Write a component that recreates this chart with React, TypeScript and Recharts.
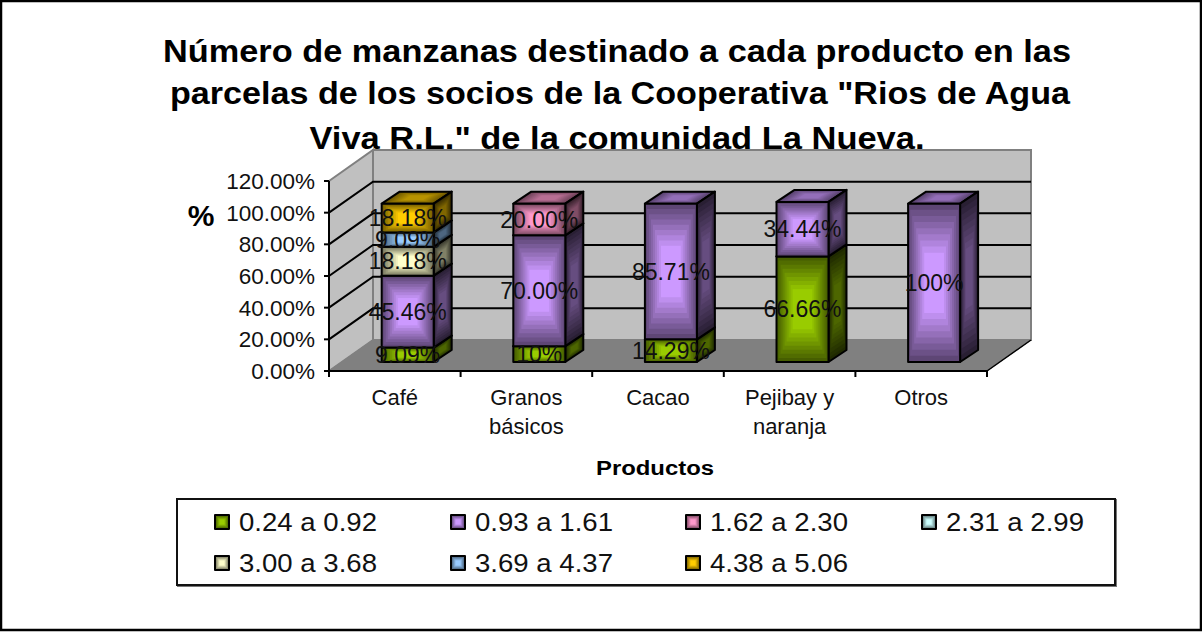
import React from "react";
import { BarChart, Bar, XAxis, YAxis, CartesianGrid, Legend, LabelList } from "recharts";

const categories = ["Café", "Granos básicos", "Cacao", "Pejibay y naranja", "Otros"];
const tickValues = [0, 20, 40, 60, 80, 100, 120];
const titleLines = [
  "Número de manzanas destinado a cada producto en las",
  "parcelas de los socios de la Cooperativa \"Rios de Agua",
  "Viva R.L.\" de la comunidad La Nueva.",
];
const titleWidths = [908, 900, 615];
const titleCenters = [617, 620, 617];
const titleBaselines = [62, 104, 149];

const s1Values = [9.09, 10, 14.29, 66.66, null];
const s1Labels = ["9.09%", "10%", "14.29%", "66.66%", null];
const s2Values = [45.46, 70, 85.71, 34.44, 100];
const s2Labels = ["45.46%", "70.00%", "85.71%", "34.44%", "100%"];
const s3Values = [null, 20, null, null, null];
const s3Labels = [null, "20.00%", null, null, null];
const s4Values = [null, null, null, null, null];
const s4Labels = [null, null, null, null, null];
const s5Values = [18.18, null, null, null, null];
const s5Labels = ["18.18%", null, null, null, null];
const s6Values = [9.09, null, null, null, null];
const s6Labels = ["9.09%", null, null, null, null];
const s7Values = [18.18, null, null, null, null];
const s7Labels = ["18.18%", null, null, null, null];

const seriesList = [
  { key: "s1", name: "0.24 a 0.92", color: "#99CC00", values: s1Values, labels: s1Labels },
  { key: "s2", name: "0.93 a 1.61", color: "#CC99FF", values: s2Values, labels: s2Labels },
  { key: "s3", name: "1.62 a 2.30", color: "#FF99CC", values: s3Values, labels: s3Labels },
  { key: "s4", name: "2.31 a 2.99", color: "#CCFFFF", values: s4Values, labels: s4Labels },
  { key: "s5", name: "3.00 a 3.68", color: "#FFFFCC", values: s5Values, labels: s5Labels },
  { key: "s6", name: "3.69 a 4.37", color: "#99CCFF", values: s6Values, labels: s6Labels },
  { key: "s7", name: "4.38 a 5.06", color: "#FFCC00", values: s7Values, labels: s7Labels },
];

const rows = categories.map((category, i) => {
  const row: Record<string, any> = { category };
  seriesList.forEach((s) => {
    row[s.key] = s.values[i];
    row[s.key + "_label"] = s.labels[i];
  });
  return row;
});

const FONT = "'Liberation Sans', Arial, sans-serif";
const W = 1202;
const H = 633;
const PLOT = { left: 329, right: 987, top: 181, bottom: 371 };
const WALL = { dx: 44, dy: -31 };
const BAR_SHIFT = { dx: 12.7, dy: -9 };
const BAR_DEPTH = { dx: 18, dy: -12 };

function shade(hex: string, f: number) {
  const n = parseInt(hex.slice(1), 16);
  const c = [(n >> 16) & 255, (n >> 8) & 255, n & 255].map((v) => Math.round(v * f));
  return `rgb(${c[0]},${c[1]},${c[2]})`;
}

type Pt = [number, number];
function Bands({ pts, color, inner, outer, steps = 9 }: { pts: Pt[]; color: string; inner: number; outer: number; steps?: number }) {
  const cx = pts.reduce((a, p) => a + p[0], 0) / pts.length;
  const cy = pts.reduce((a, p) => a + p[1], 0) / pts.length;
  const out = [];
  for (let i = 0; i < steps; i++) {
    const t = i / (steps - 1);
    const k = 1 - t * 0.62;
    const f = outer + (inner - outer) * t;
    const p = pts.map(([x, y]) => `${cx + (x - cx) * k},${cy + (y - cy) * k}`).join(" ");
    out.push(<polygon key={i} points={p} fill={shade(color, f)} stroke="none" />);
  }
  return (
    <g>
      {out}
      <polygon points={pts.map((p) => p.join(",")).join(" ")} fill="none" stroke="#000" strokeWidth={2} strokeLinejoin="round" />
    </g>
  );
}

function Bar3D(props: any) {
  const { x, y, width, height, fill } = props;
  if (!height || height <= 0 || x == null) return null;
  const x0 = x + BAR_SHIFT.dx;
  const y0 = y + BAR_SHIFT.dy;
  const x1 = x0 + width;
  const y1 = y0 + height;
  const d = BAR_DEPTH;
  return (
    <g>
      <Bands color={fill} inner={0.72} outer={0.42}
        pts={[[x0, y0], [x1, y0], [x1 + d.dx, y0 + d.dy], [x0 + d.dx, y0 + d.dy]]} />
      <Bands color={fill} inner={0.5} outer={0.2}
        pts={[[x1, y0], [x1 + d.dx, y0 + d.dy], [x1 + d.dx, y1 + d.dy], [x1, y1]]} />
      <Bands color={fill} inner={1} outer={0.46}
        pts={[[x0, y0], [x1, y0], [x1, y1], [x0, y1]]} />
    </g>
  );
}

function SegmentLabel(props: any) {
  const { x, y, width, height, value } = props;
  if (value == null || !height) return null;
  return (
    <text x={x + width / 2 + BAR_SHIFT.dx} y={y + height / 2 + BAR_SHIFT.dy} textAnchor="middle" dominantBaseline="central"
      fontFamily={FONT} fontSize={23} fill="#111">
      {value}
    </text>
  );
}

function GridLine(props: any) {
  const { x1, x2, y1 } = props;
  if (Math.abs(y1 - PLOT.top) < 1 || Math.abs(y1 - PLOT.bottom) < 1) return <g />;
  return (
    <polyline points={`${x1},${y1} ${x1 + WALL.dx},${y1 + WALL.dy} ${x2 + WALL.dx},${y1 + WALL.dy}`}
      fill="none" stroke="#000" strokeWidth={2} />
  );
}

function wrapLabel(label: string) {
  const lines: string[] = [];
  let cur = "";
  label.split(" ").forEach((w) => {
    const next = cur ? cur + " " + w : w;
    if (next.length > 10 && cur) {
      lines.push(cur);
      cur = w;
    } else cur = next;
  });
  if (cur) lines.push(cur);
  return lines;
}

function CategoryTick(props: any) {
  const { x, payload, index } = props;
  const band = (PLOT.right - PLOT.left) / categories.length;
  return (
    <g>
      <line x1={x - band / 2} x2={x - band / 2} y1={PLOT.bottom} y2={PLOT.bottom + 6} stroke="#000" strokeWidth={2} />
      {index === categories.length - 1 && (
        <line x1={x + band / 2} x2={x + band / 2} y1={PLOT.bottom} y2={PLOT.bottom + 6} stroke="#000" strokeWidth={2} />
      )}
      <text textAnchor="middle" fontFamily={FONT} fontSize={22} fill="#111">
        {wrapLabel(payload.value).map((ln, i) => (
          <tspan key={ln} x={x} y={PLOT.bottom + 34 + i * 29}>{ln}</tspan>
        ))}
      </text>
    </g>
  );
}

function LegendBox(props: any) {
  const items = props.payload || [];
  return (
    <div style={{ boxSizing: "border-box", width: 940, height: 88, border: "2px solid #111", background: "#fff", position: "relative", boxShadow: "1px 1px 0 #777" }}>
      {items.map((it: any, i: number) => (
        <svg key={it.value} width={232} height={40}
          style={{ position: "absolute", left: 35 + (i % 4) * 235.5, top: 4 + Math.floor(i / 4) * 41, overflow: "visible" }}>
          <Bands color={it.color} inner={1} outer={0.45} steps={5} pts={[[2, 11], [16, 11], [16, 25], [2, 25]]} />
          <text x={26} y={27} fontFamily={FONT} fontSize={25} fill="#111" textLength={138} lengthAdjust="spacingAndGlyphs">
            {it.value}
          </text>
        </svg>
      ))}
    </div>
  );
}

const wall = {
  x0: PLOT.left, x1: PLOT.left + WALL.dx, x2: PLOT.right, x3: PLOT.right + WALL.dx,
  yTop: PLOT.top + WALL.dy, yFloor: PLOT.bottom + WALL.dy,
};

function Backdrop() {
  return (
    <svg width={W} height={H} style={{ position: "absolute", left: 0, top: 0 }}>
      <rect x={1} y={1} width={W - 2} height={H - 4} fill="#fff" stroke="#000" strokeWidth={2.5} />
      <polygon points={`${wall.x1},${wall.yTop} ${wall.x3},${wall.yTop} ${wall.x3},${wall.yFloor} ${wall.x1},${wall.yFloor}`} fill="#C0C0C0" stroke="#808080" strokeWidth={2} />
      <polygon points={`${wall.x0},${PLOT.top} ${wall.x1},${wall.yTop} ${wall.x1},${wall.yFloor} ${wall.x0},${PLOT.bottom}`} fill="#C0C0C0" stroke="#808080" strokeWidth={2} />
      <polygon points={`${wall.x0},${PLOT.bottom} ${wall.x1},${wall.yFloor} ${wall.x3},${wall.yFloor} ${wall.x2},${PLOT.bottom}`} fill="#808080" stroke="#808080" strokeWidth={1} />
      <line x1={wall.x2} y1={PLOT.bottom} x2={wall.x3} y2={wall.yFloor} stroke="#000" strokeWidth={1.5} />
    </svg>
  );
}

export default function App() {
  return (
    <div style={{ position: "absolute", left: 0, top: 0, width: W, height: H }}>
      <Backdrop />
      <div style={{ position: "absolute", left: 0, top: 0 }}>
        <BarChart width={W} height={H} data={rows} barSize={52}
          margin={{ top: PLOT.top, left: PLOT.left - 90, right: W - PLOT.right, bottom: H - PLOT.bottom - 70 }}>
          {titleLines.map((t, i) => (
            <text key={t} x={titleCenters[i]} y={titleBaselines[i]} textAnchor="middle" fontFamily={FONT} fontWeight="bold" fontSize={30.5}
              fill="#000" textLength={titleWidths[i]} lengthAdjust="spacingAndGlyphs">
              {t}
            </text>
          ))}
          <text x={201} y={226} textAnchor="middle" fontFamily={FONT} fontWeight="bold" fontSize={30} fill="#000">%</text>
          <text x={655} y={475} textAnchor="middle" fontFamily={FONT} fontWeight="bold" fontSize={20} fill="#000" textLength={118} lengthAdjust="spacingAndGlyphs">Productos</text>
          <CartesianGrid vertical={false} horizontal={(p: any) => <GridLine key={p.key} {...p} />} />
          <XAxis dataKey="category" height={70} interval={0} tickLine={false} axisLine={{ stroke: "#000", strokeWidth: 2 }}
            tick={(p: any) => <CategoryTick {...p} />} />
          <YAxis width={90} domain={[0, 120]} ticks={tickValues} tickSize={5} tickMargin={9}
            tickFormatter={(v: number) => v.toFixed(2) + "%"} interval={0}
            axisLine={{ stroke: "#000", strokeWidth: 2 }} tickLine={{ stroke: "#000", strokeWidth: 2 }}
            tick={{ fontFamily: FONT, fontSize: 22.5, fill: "#111" }} />
          <Legend layout="horizontal" verticalAlign="middle" align="center" content={(p: any) => <LegendBox {...p} />}
            wrapperStyle={{ left: 176, top: 498, width: 940, height: 88, bottom: "auto", margin: 0 }} />
          {seriesList.map((s) => (
            <Bar key={s.key} dataKey={s.key} name={s.name} stackId="a" fill={s.color} isAnimationActive={false} shape={(p: any) => <Bar3D {...p} />}>
              <LabelList dataKey={s.key + "_label"} content={(p: any) => <SegmentLabel {...p} />} />
            </Bar>
          ))}
        </BarChart>
      </div>
    </div>
  );
}
